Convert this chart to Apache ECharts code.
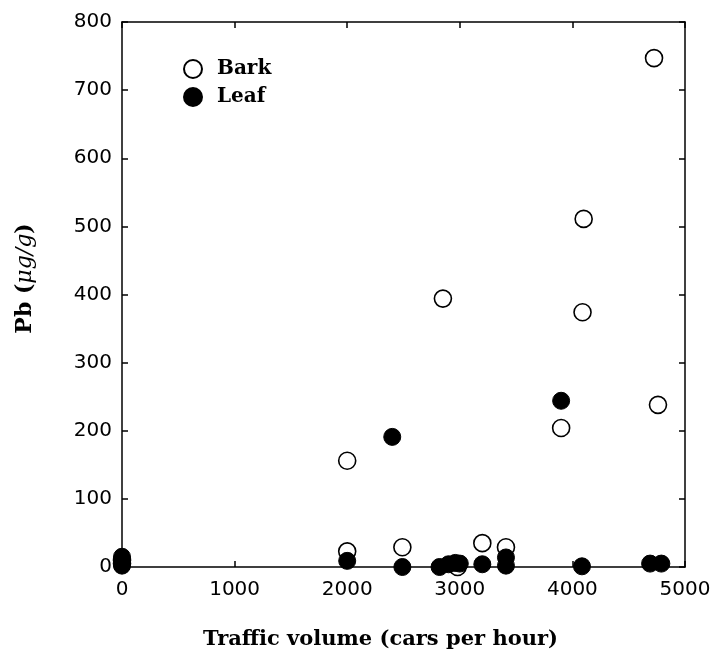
<!DOCTYPE html>
<html>
<head>
<meta charset="utf-8">
<script src="https://cdn.jsdelivr.net/npm/echarts@6/dist/echarts.min.js"></script>
<style>html,body{margin:0;padding:0;background:#fff}#c{width:714px;height:655px}</style>
</head>
<body>
<div id="c"></div>
<script>
// Data
var barkX = [0, 0, 2000, 2000, 2490, 2850, 2980, 3200, 3410, 3900, 4090, 4100, 4725, 4760];
var barkY = [5, 10, 156, 23, 29, 394, 0, 35, 29, 204, 374, 511, 747, 238];
var leafX = [0, 0, 0, 2000, 2400, 2490, 2820, 2900, 2960, 3000, 3200, 3410, 3410, 3900, 4085, 4690, 4790];
var leafY = [15, 8, 2, 9, 191, 0, 0, 4, 6, 5, 4, 14, 2, 244, 1, 5, 5];
var xTicks = [0, 1000, 2000, 3000, 4000, 5000];
var yTicks = [0, 100, 200, 300, 400, 500, 600, 700, 800];

function pairs(xs, ys) { return xs.map(function (x, i) { return [x, ys[i]]; }); }

var chart = echarts.init(document.getElementById('c'));
var axisLine = { show: true, onZero: false, lineStyle: { color: '#000', width: 1.5 } };
var tick = { show: true, inside: true, length: 6, lineStyle: { color: '#000', width: 1.5 } };
var labelFont = { color: '#000', fontFamily: 'DejaVu Sans', fontSize: 20, formatter: function (v) { return String(v); } };
var serif = 'DejaVu Serif';

chart.setOption({
  backgroundColor: '#fff',
  animation: false,
  grid: { left: 122, right: 29, top: 22, bottom: 81, containLabel: false },
  legend: {
    orient: 'vertical', left: 178, top: 54, itemGap: 8, itemWidth: 18, itemHeight: 18,
    textStyle: { color: '#000', fontFamily: serif, fontSize: 20, fontWeight: 'bold', padding: [0, 0, 0, 10] },
    data: [{ name: 'Bark', icon: 'circle' }, { name: 'Leaf', icon: 'circle' }]
  },
  xAxis: [{
    type: 'value', min: xTicks[0], max: xTicks[xTicks.length - 1], interval: 1000,
    name: 'Traffic volume (cars per hour)', nameLocation: 'middle', nameGap: 62,
    nameTextStyle: { color: '#000', fontFamily: serif, fontSize: 21, fontWeight: 'bold', padding: [0, 46, 0, 0] },
    axisLine: axisLine, axisTick: tick, splitLine: { show: false },
    axisLabel: Object.assign({ margin: 13 }, labelFont)
  }, {
    type: 'value', position: 'top', min: 0, max: 5000, interval: 1000,
    axisLine: axisLine, axisTick: tick, splitLine: { show: false }, axisLabel: { show: false }
  }],
  yAxis: [{
    type: 'value', min: yTicks[0], max: yTicks[yTicks.length - 1], interval: 100,
    name: '{n|Pb (}{i|μg/g}{n|)}', nameLocation: 'middle', nameGap: 86,
    nameTextStyle: {
      color: '#000', padding: [0, 0, 0, 32],
      rich: {
        n: { fontFamily: serif, fontSize: 22, fontWeight: 'bold', color: '#000' },
        i: { fontFamily: serif, fontSize: 22, fontStyle: 'italic', color: '#000' }
      }
    },
    axisLine: axisLine, axisTick: tick, splitLine: { show: false },
    axisLabel: Object.assign({ margin: 10 }, labelFont)
  }, {
    type: 'value', position: 'right', min: 0, max: 800, interval: 100,
    axisLine: axisLine, axisTick: tick, splitLine: { show: false }, axisLabel: { show: false }
  }],
  series: [{
    name: 'Bark', type: 'scatter', xAxisIndex: 0, yAxisIndex: 0, clip: false,
    symbol: 'circle', symbolSize: 17,
    itemStyle: { color: '#fff', borderColor: '#000', borderWidth: 1.6, opacity: 1 },
    data: pairs(barkX, barkY), z: 3
  }, {
    name: 'Leaf', type: 'scatter', xAxisIndex: 0, yAxisIndex: 0, clip: false,
    symbol: 'circle', symbolSize: 17,
    itemStyle: { color: '#000', borderColor: '#000', borderWidth: 1, opacity: 1 },
    data: pairs(leafX, leafY), z: 4
  }]
});
</script>
</body>
</html>
